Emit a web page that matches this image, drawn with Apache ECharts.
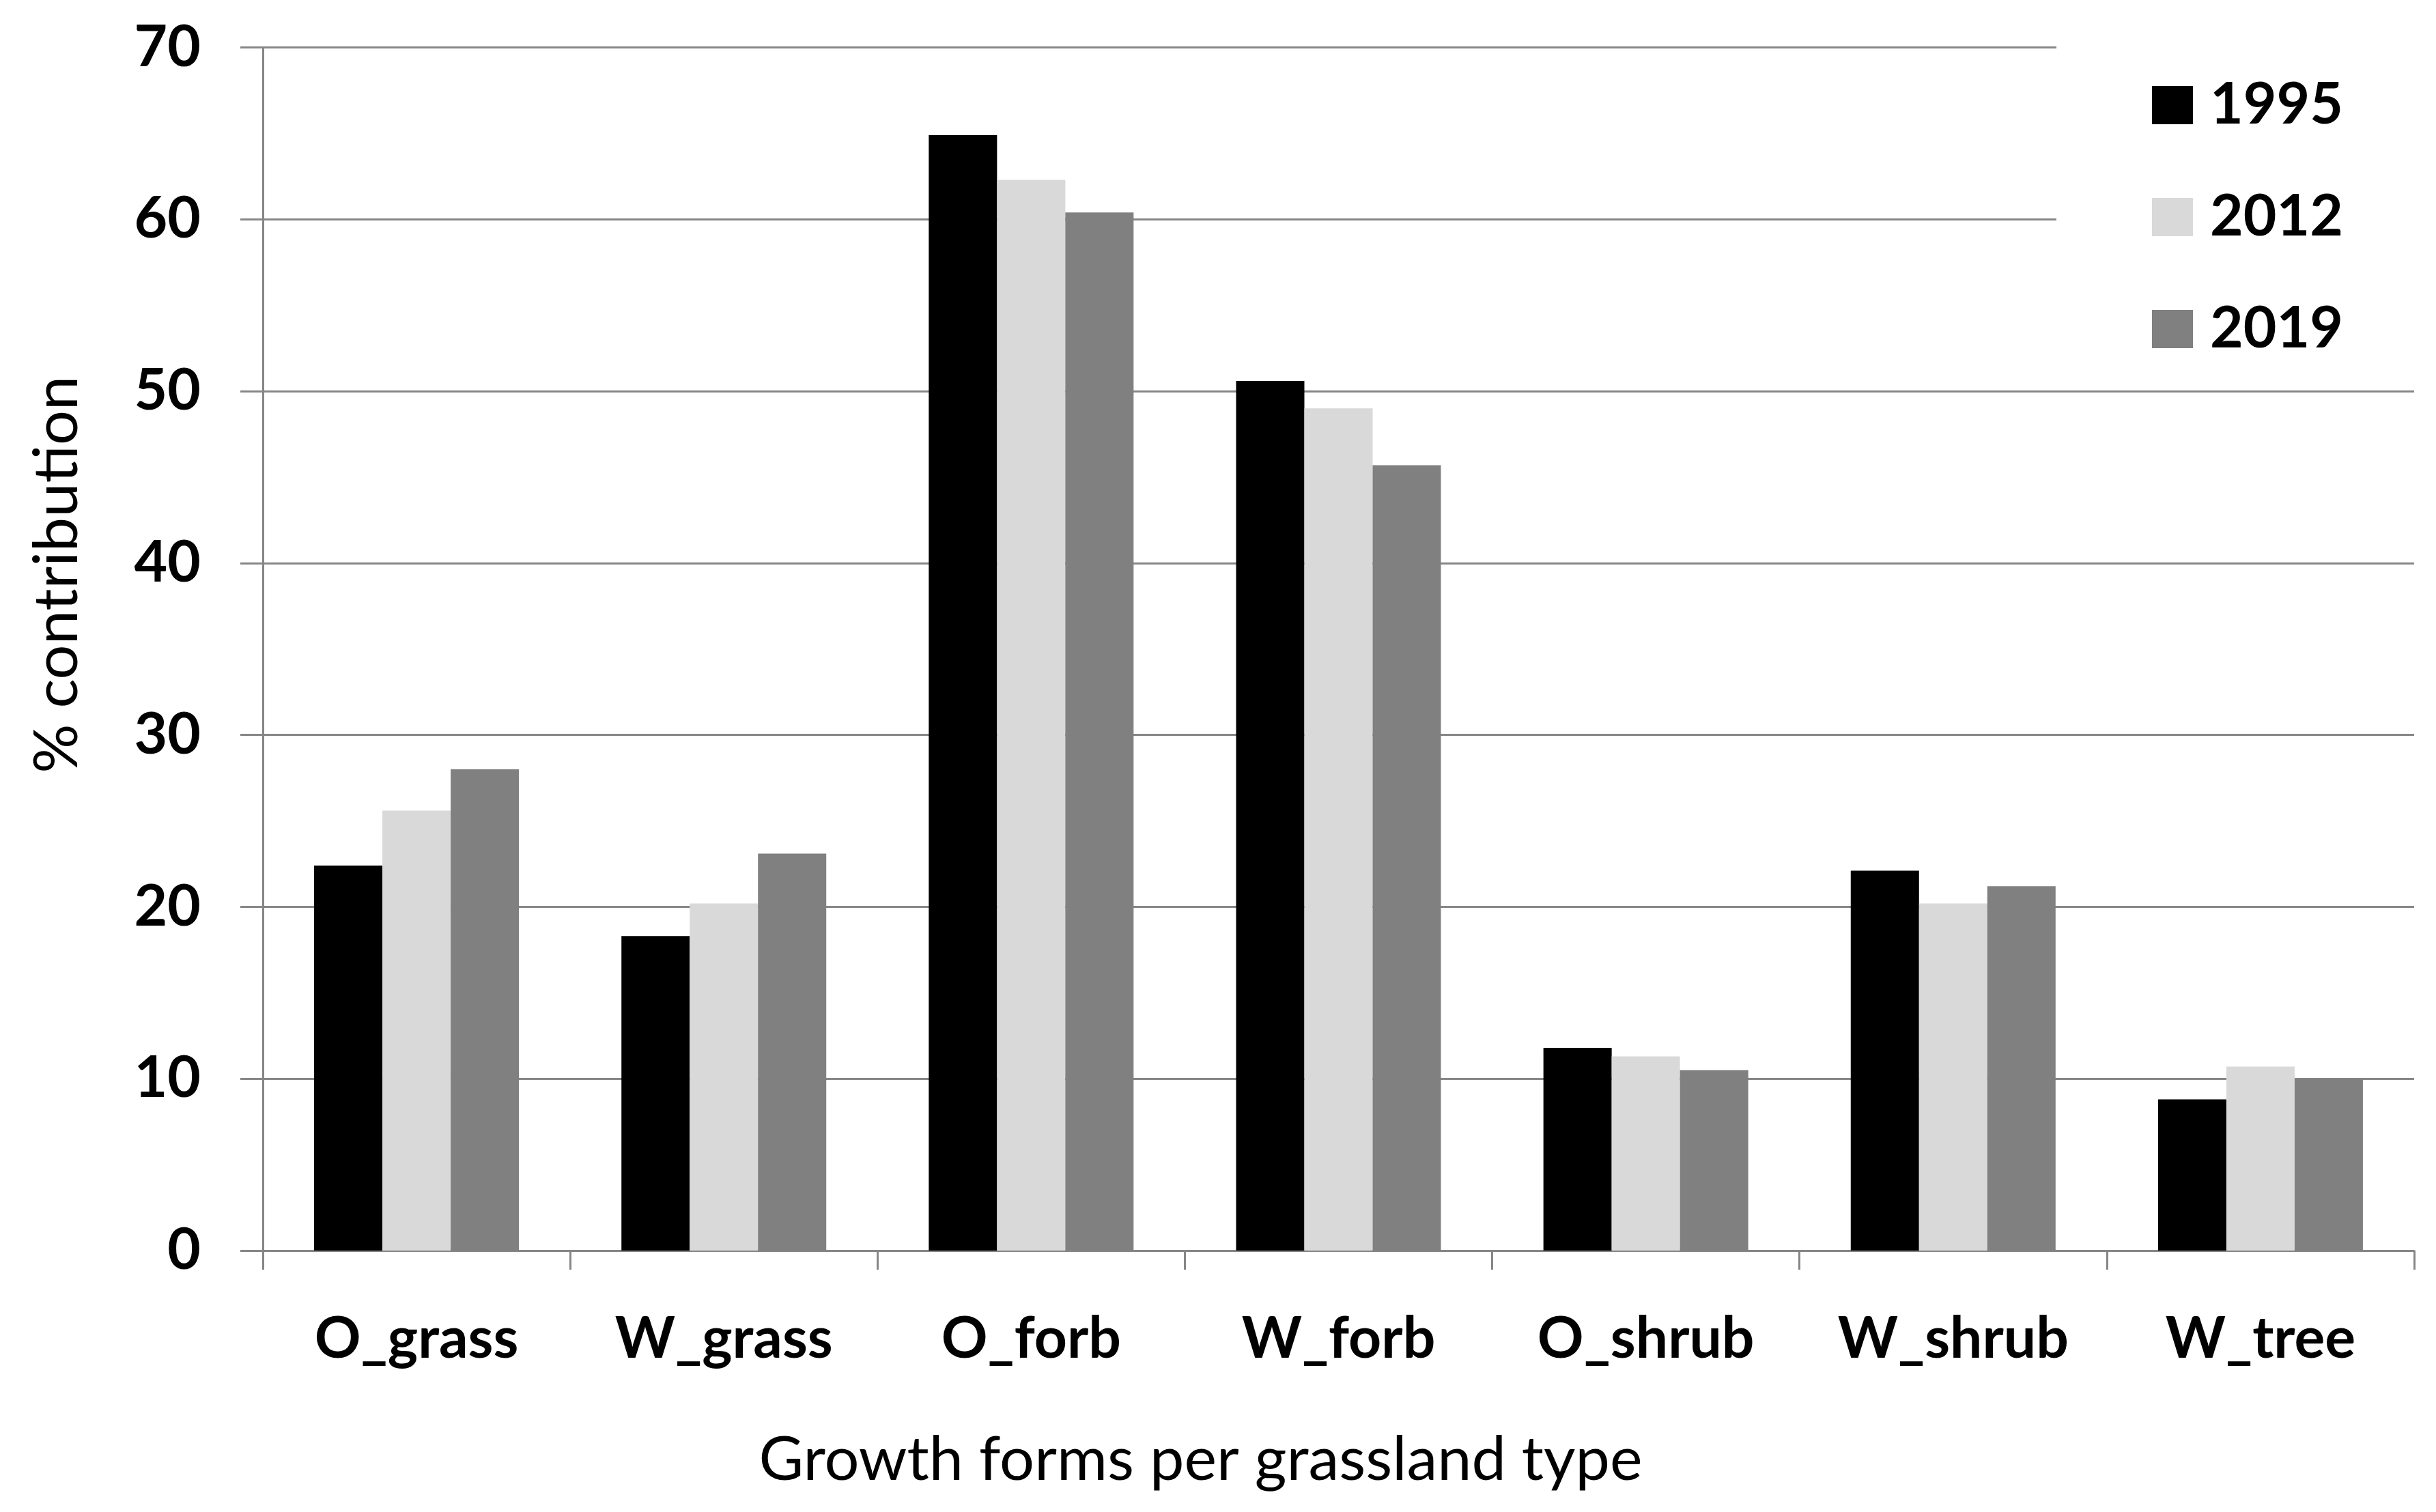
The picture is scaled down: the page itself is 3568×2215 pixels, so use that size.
<!DOCTYPE html>
<html>
<head>
<meta charset="utf-8">
<script src="https://cdn.jsdelivr.net/npm/echarts@6/dist/echarts.min.js"></script>
<style>
html,body{margin:0;padding:0;background:#fff;}
#chart{width:3568px;height:2215px;}
</style>
</head>
<body>
<div id="chart"></div>
<script>
const categories = ['O_grass', 'W_grass', 'O_forb', 'W_forb', 'O_shrub', 'W_shrub', 'W_tree'];
const seriesNames = ['1995', '2012', '2019'];
const values1995 = [22.4, 18.3, 64.9, 50.6, 11.8, 22.1, 8.8];
const values2012 = [25.6, 20.2, 62.3, 49.0, 11.3, 20.2, 10.7];
const values2019 = [28.0, 23.1, 60.4, 45.7, 10.5, 21.2, 10.0];
const yTicks = [0, 10, 20, 30, 40, 50, 60, 70];
const colors = ['#000000', '#d9d9d9', '#808080'];

const FONT = 'Lato';
const GRID = '#868686';

const chart = echarts.init(document.getElementById('chart'), null, {renderer: 'canvas'});
const dataSets = [values1995, values2012, values2019];

chart.setOption({
  backgroundColor: '#ffffff',
  animation: false,
  grid: {left: 385, right: 32, top: 69.6, bottom: 383, containLabel: false},
  legend: {
    orient: 'vertical',
    left: 3012,
    top: 40,
    padding: [72, 130, 24, 140],
    backgroundColor: '#ffffff',
    itemWidth: 60,
    itemHeight: 56,
    itemGap: 80,
    icon: 'rect',
    selectedMode: false,
    data: seriesNames,
    textStyle: {fontFamily: FONT, fontWeight: 'bold', fontSize: 84, lineHeight: 84, color: '#000', padding: [0, 0, 0, 20]}
  },
  xAxis: {
    type: 'category',
    data: categories,
    name: 'Growth forms per grassland type',
    nameLocation: 'middle',
    nameGap: 262,
    nameTextStyle: {fontFamily: FONT, fontSize: 90, color: '#000', padding: [0, 404, 0, 0]},
    axisLine: {show: true, lineStyle: {color: GRID, width: 3}},
    axisTick: {show: true, length: 28, lineStyle: {color: GRID, width: 3}},
    axisLabel: {fontFamily: FONT, fontWeight: 'bold', fontSize: 84, color: '#000', margin: 88}
  },
  yAxis: {
    type: 'value',
    min: yTicks[0],
    max: yTicks[yTicks.length - 1],
    interval: 10,
    name: '% contribution',
    nameLocation: 'middle',
    nameGap: 256,
    nameRotate: 90,
    nameTextStyle: {fontFamily: FONT, fontSize: 90, color: '#000', padding: [0, 0, 0, 218]},
    axisLine: {show: true, lineStyle: {color: GRID, width: 3}},
    axisTick: {show: true, length: 33, inside: false, lineStyle: {color: GRID, width: 3}},
    axisLabel: {fontFamily: FONT, fontWeight: 'bold', fontSize: 84, color: '#000', margin: 91},
    splitLine: {show: true, lineStyle: {color: GRID, width: 3}}
  },
  series: seriesNames.map((n, i) => ({
    name: n,
    type: 'bar',
    data: dataSets[i],
    barWidth: 100,
    barGap: '0%',
    itemStyle: {color: colors[i]}
  }))
});
</script>
</body>
</html>
